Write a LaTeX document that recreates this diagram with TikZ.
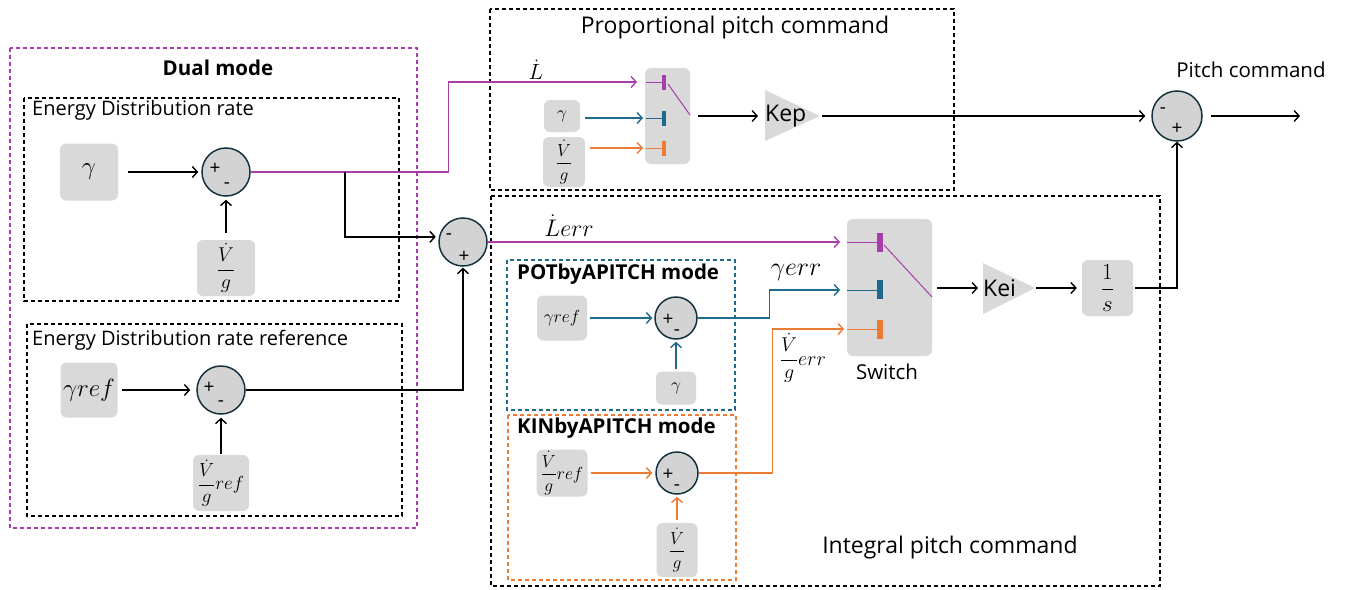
\RequirePackage{fix-cm}
\documentclass[tikz,border=0pt]{standalone}
\usepackage{amsmath}
\usepackage{fontspec}
\setmainfont{Open Sans}
\usetikzlibrary{arrows.meta,calc,positioning,shapes.geometric}

\definecolor{dualpink}{HTML}{A83CA8}
\definecolor{potblue}{HTML}{1D6A8A}
\definecolor{kinorange}{HTML}{EE7B35}
\definecolor{blockgray}{HTML}{D9D9D9}
\definecolor{sumgray}{HTML}{D3D3D3}
\definecolor{sumedge}{HTML}{17323F}

\tikzset{
  blocknode/.style={fill=blockgray, rounded corners=6pt, inner sep=0pt},
  bigmath/.style={font=\fontsize{20}{22}\selectfont},
  sumnode/.style={circle, draw=sumedge, line width=1.5pt, fill=sumgray, inner sep=0pt},
  signnode/.style={inner sep=0pt, font=\fontsize{19}{19}\selectfont},
  gainnode/.style={inner sep=0pt, text width=55pt, align=left, font=\fontsize{23}{25}\selectfont},
  titlenode/.style={inner sep=0pt, font=\fontsize{20}{24}\selectfont},
  bigtitlenode/.style={inner sep=0pt, font=\fontsize{23}{27}\selectfont},
  modenode/.style={inner sep=0pt, font=\bfseries\fontsize{20.5}{24}\selectfont},
  sigline/.style={line width=1.4pt},
  pinkline/.style={line width=1.4pt, dualpink},
  blueline/.style={line width=1.4pt, potblue},
  orangeline/.style={line width=1.4pt, kinorange},
  boxline/.style={line width=1.3pt, dash pattern=on 4pt off 3pt},
}

\begin{document}
\begin{tikzpicture}[x=1pt,y=-1pt,>={Straight Barb[length=5pt,width=11pt]},
  every node/.style={font=\fontsize{17.5}{20}\selectfont}]
\useasboundingbox (0,0) rectangle (1346,589);

% frames
\draw[boxline,dualpink] (10,48) rectangle (417,528);
\draw[boxline] (24,98) rectangle (399,301);
\draw[boxline] (27,324) rectangle (402,516);
\draw[boxline] (490,9) rectangle (954,190);
\draw[boxline] (491,196) rectangle (1160,586);
\draw[boxline,potblue] (507,260) rectangle (735,410);
\draw[boxline,kinorange] (508,415) rectangle (736,580);

\node[modenode] (dualtitle) at (218,68) {Dual mode};
\node[titlenode,anchor=west] (edrtitle) at (32,110) {Energy Distribution rate};
\node[titlenode,anchor=west] (edrreftitle) at (32,340) {Energy Distribution rate reference};
\node[bigtitlenode] (proptitle) at (735,28) {Proportional pitch command};
\node[bigtitlenode] (integtitle) at (950,548) {Integral pitch command};
\node[modenode,anchor=west] (pottitle) at (517,274) {POTbyAPITCH mode};
\node[modenode,anchor=west] (kintitle) at (517,428) {KINbyAPITCH mode};

% energy distribution rate
\node[blocknode,minimum width=58pt,minimum height=57pt] (g1) at (89,172) {\fontsize{25}{27}\selectfont$\gamma$};
\node[sumnode,minimum size=48pt] (s1) at (226,172) {};
\node[signnode] at ($(s1)+(-11,-3)$) {+};
\node[signnode] at ($(s1)+(1,14)$) {-};
\node[blocknode,bigmath,minimum width=58pt,minimum height=56pt] (vg1) at (226,268) {$\dfrac{\dot V}{g}$};

% energy distribution rate reference
\node[blocknode,minimum width=57pt,minimum height=55pt] (gr1) at (89,390) {\fontsize{25}{27}\selectfont$\gamma ref$};
\node[sumnode,minimum size=48pt] (s2) at (221,390) {};
\node[signnode] at ($(s2)+(-12,-2)$) {+};
\node[signnode] at ($(s2)+(0,14)$) {-};
\node[blocknode,font=\fontsize{19}{21}\selectfont,minimum width=56pt,minimum height=56pt] (vgr1) at (221,483) {$\dfrac{\dot V}{g}ref$};

\node[sumnode,minimum size=48pt] (s3) at (463,242) {};
\node[signnode] at ($(s3)+(-14,-5)$) {-};
\node[signnode] at ($(s3)+(1,15)$) {+};

% proportional pitch command
\node[blocknode,minimum width=36pt,minimum height=32pt] (g2) at (562,116) {$\gamma$};
\node[blocknode,minimum width=42pt,minimum height=50pt] (vg2) at (564,162) {$\dfrac{\dot V}{g}$};
\node[blocknode,minimum width=45pt,minimum height=96pt] (sw1) at (667.5,116) {};
\coordinate (sw1a) at (637,82);
\coordinate (sw1b) at (643,118);
\coordinate (sw1c) at (643,148);
\fill[blockgray] (765,90) -- (820,116) -- (765,141) -- cycle;
\node[gainnode,anchor=west] (kep) at (765,116) {Kep};
\node[inner sep=0pt,font=\fontsize{22}{24}\selectfont] (ldot) at (536,70) {$\dot L$};

\node[sumnode,minimum size=50pt] (s4) at (1177,116) {};
\node[signnode] at ($(s4)+(-14,-5)$) {-};
\node[signnode] at ($(s4)+(0,13)$) {+};
\node[inner sep=0pt,font=\fontsize{20.5}{24}\selectfont] (pctitle) at (1251,70) {Pitch command};
\coordinate (pcmd) at (1300,116);

% integral pitch command
\node[blocknode,minimum width=85pt,minimum height=137pt] (sw2) at (889.5,287.5) {};
\node[inner sep=0pt,font=\fontsize{20.5}{24}\selectfont] (swtext) at (887,372) {Switch};
\coordinate (sw2a) at (840,242);
\coordinate (sw2b) at (840,290);
\coordinate (sw2c) at (844,329);
\fill[blockgray] (983,263) -- (1035,288) -- (983,314) -- cycle;
\node[gainnode,text width=52pt,anchor=west] (kei) at (983,288) {Kei};
\node[blocknode,minimum width=51pt,minimum height=56pt] (integ) at (1107.5,288) {\fontsize{23}{25}\selectfont$\dfrac{1}{s}$};
\node[inner sep=0pt,font=\fontsize{24}{26}\selectfont] (lerr) at (569,226) {$\dot L err$};
\node[inner sep=0pt,font=\fontsize{26}{28}\selectfont] (gerr) at (796,272) {$\gamma err$};
\node[inner sep=0pt,bigmath] (vgerr) at (803,358) {$\dfrac{\dot V}{g}err$};

% POTbyAPITCH
\node[blocknode,minimum width=50pt,minimum height=45pt] (gr2) at (562,318) {$\gamma ref$};
\node[sumnode,minimum size=42pt] (s5) at (676,318) {};
\node[signnode] at ($(s5)+(-8,2)$) {+};
\node[signnode] at ($(s5)+(1,15)$) {-};
\node[blocknode,minimum width=40pt,minimum height=33pt] (g3) at (676,388) {$\gamma$};

% KINbyAPITCH
\node[blocknode,minimum width=51pt,minimum height=47pt] (vgr2) at (562,473) {$\dfrac{\dot V}{g}ref$};
\node[sumnode,minimum size=42pt] (s6) at (677,473) {};
\node[signnode] at ($(s6)+(-9,2)$) {+};
\node[signnode] at ($(s6)+(0,15)$) {-};
\node[blocknode,minimum width=41pt,minimum height=54pt] (vg3) at (677,550) {$\dfrac{\dot V}{g}$};

% switch contacts
\draw[pinkline,line width=1pt] (646,82) -- (664,82);
\draw[pinkline,line width=4pt] (664,75) -- (664,90);
\draw[pinkline,line width=1pt] (668,84) -- (690,115);
\draw[blueline,line width=1pt] (646,118) -- (664,118);
\draw[blueline,line width=4pt] (664,111) -- (664,126);
\draw[orangeline,line width=1pt] (646,148) -- (664,148);
\draw[orangeline,line width=4pt] (664,141) -- (664,156);

\draw[pinkline,line width=1pt] (847,242) -- (880,242);
\draw[pinkline,line width=6pt] (880,233) -- (880,252);
\draw[pinkline,line width=1pt] (884,245) -- (932,297);
\draw[blueline,line width=1pt] (847,290) -- (880,290);
\draw[blueline,line width=6pt] (880,280) -- (880,299);
\draw[orangeline,line width=1pt] (847,329) -- (880,329);
\draw[orangeline,line width=6pt] (880,320) -- (880,339);

% connectors
\draw[sigline,->,shorten <=10pt,shorten >=3pt] (g1) -- (s1);
\draw[sigline,->,shorten <=7pt,shorten >=3pt] (vg1) -- (s1);
\draw[pinkline,->] (s1.east) -- ++(198,0) |- (sw1a);
\coordinate (tap) at (345,172);
\draw[sigline,->,shorten >=3pt] (tap) |- (s3.168);
\draw[sigline,->,shorten <=4pt,shorten >=6pt] (gr1) -- (s2);
\draw[sigline,->,shorten <=1pt,shorten >=3pt] (vgr1) -- (s2);
\draw[sigline,->,shorten >=1pt] (s2.east) -| (s3.south);
\draw[pinkline,->] (s3.east) -- (sw2a);

\draw[blueline,->,shorten <=5pt] (g2.east |- sw1b) -- (sw1b);
\draw[orangeline,->,shorten <=5pt] (vg2.east |- sw1c) -- (sw1c);
\draw[sigline,->,shorten <=8pt,shorten >=7pt] (sw1.east) -- (kep.west);
\draw[sigline,->,shorten <=2pt,shorten >=6pt] (kep.east) -- (s4.west);
\draw[sigline,->,shorten <=8pt] (s4.east) -- (pcmd);

\draw[sigline,->,shorten <=5pt,shorten >=5pt] (sw2.east |- kei.west) -- (kei.west);
\draw[sigline,->,shorten <=1pt,shorten >=5pt] (kei.east) -- (integ.west);
\draw[sigline,->,shorten <=2pt] (integ.east) -| (s4.south);

\draw[blueline,->,shorten <=3pt,shorten >=2pt] (gr2) -- (s5);
\draw[blueline,->,shorten <=2pt,shorten >=2pt] (g3) -- (s5);
\draw[blueline,->] (s5.east) -- ++(72,0) |- (sw2b);
\draw[orangeline,->,shorten <=3pt,shorten >=3pt] (vgr2) -- (s6);
\draw[orangeline,->,shorten <=3pt,shorten >=2pt] (vg3) -- (s6);
\draw[orangeline,->] (s6.east) -- ++(74,0) |- (sw2c);
\end{tikzpicture}
\end{document}
